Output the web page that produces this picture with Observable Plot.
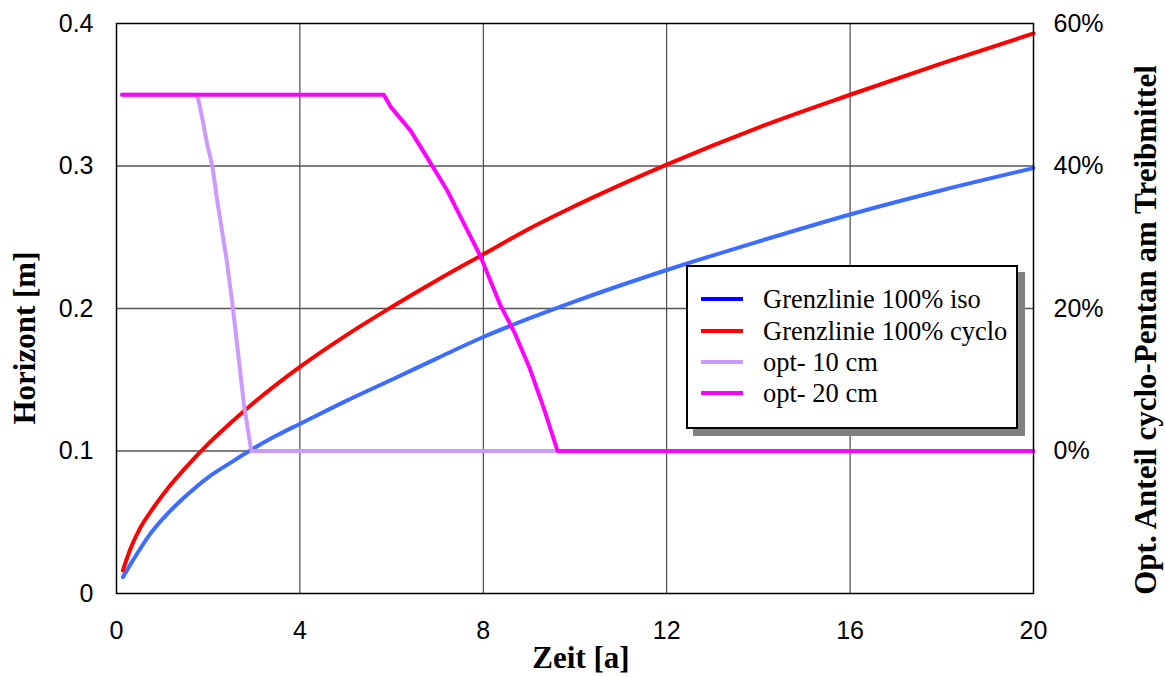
<!DOCTYPE html>
<html>
<head>
<meta charset="utf-8">
<script src="https://cdn.jsdelivr.net/npm/d3@7"></script>
<script src="https://cdn.jsdelivr.net/npm/@observablehq/plot@0.6"></script>
<style>
  html, body { margin: 0; padding: 0; background: #fff; }
  #wrap { position: relative; width: 1165px; height: 677px; overflow: hidden; }
  .title { position: absolute; font-family: "Liberation Serif", "Times New Roman", serif; font-weight: bold; font-size: 31px; line-height: 1; white-space: nowrap; color: #000; }
  #legend { position: absolute; left: 686px; top: 265px; width: 332px; height: 164px; box-sizing: border-box; border: 2px solid #000; background: #fff; box-shadow: 7px 7px 0 #808080; font-family: "Liberation Serif", "Times New Roman", serif; font-size: 26.5px; color: #000; }
  .row { position: absolute; left: 0; height: 0; }
  .sw { position: absolute; left: 13px; width: 42px; height: 4px; margin-top: -2px; }
  .lt { position: absolute; left: 75px; top: -15px; line-height: 30px; white-space: nowrap; }
</style>
</head>
<body>
<div id="wrap"></div>
<script>
// ---- data ----
const xTicks = [0, 4, 8, 12, 16, 20];
const yTicks = [0, 0.1, 0.2, 0.3, 0.4];
const pctTicks = [0, 20, 40, 60];

const isoT = [0.14, 0.38, 0.74, 1.1, 1.5, 2.0, 2.5, 2.92, 3.5, 4, 5, 6, 7, 8, 9, 10, 12, 14, 16, 18, 20];
const isoH = [0.0115, 0.0244, 0.042, 0.0555, 0.068, 0.0815, 0.092, 0.1005, 0.111, 0.119, 0.135, 0.150, 0.1652, 0.180, 0.193, 0.205, 0.227, 0.247, 0.266, 0.283, 0.2985];

const cycloT = [0.14, 0.3, 0.5, 0.8, 1.1, 1.5, 2, 2.5, 3, 4, 5, 6, 7, 8, 9, 10, 12, 14, 16, 18, 20];
const cycloH = [0.0162, 0.031, 0.045, 0.060, 0.073, 0.088, 0.105, 0.120, 0.134, 0.159, 0.181, 0.201, 0.220, 0.238, 0.256, 0.272, 0.301, 0.327, 0.350, 0.372, 0.393];

const opt10T = [0.12, 1.76, 1.83, 1.98, 2.09, 2.2, 2.41, 2.54, 2.78, 2.94, 20];
const opt10P = [50, 50, 48, 43, 40, 35, 26.5, 20, 6.5, 0, 0];

const opt20T = [0.12, 5.83, 5.98, 6.41, 6.85, 7.21, 7.65, 7.94, 8.37, 8.69, 9.0, 9.31, 9.62, 20];
const opt20P = [50, 50, 48.3, 45, 40.4, 36.6, 31, 27.3, 20.5, 16.5, 11.8, 6.2, 0, 0];

const seriesNames = ["Grenzlinie 100% iso", "Grenzlinie 100% cyclo", "opt- 10 cm", "opt- 20 cm"];
const lineColors = ["#3d6dff", "#ff0000", "#cc99ff", "#ff00ff"];
const legendColors = ["#0000ff", "#ff0000", "#cc99ff", "#ff00ff"];
const lineCurves = ["monotone-x", "monotone-x", "linear", "linear"];

// percent (right axis) -> left-axis value: 0% at 0.1, 60% at 0.4
const pctToH = p => 0.1 + p / 200;
const hToPct = h => (h - 0.1) * 200;

const isoRows = isoT.map((t, i) => ({t, h: isoH[i]}));
const cycloRows = cycloT.map((t, i) => ({t, h: cycloH[i]}));
const opt10Rows = opt10T.map((t, i) => ({t, h: pctToH(opt10P[i])}));
const opt20Rows = opt20T.map((t, i) => ({t, h: pctToH(opt20P[i])}));
const allRows = [isoRows, cycloRows, opt10Rows, opt20Rows];

const lineOpts = (i) => ({x: "t", y: "h", stroke: lineColors[i], strokeWidth: 4, curve: lineCurves[i], strokeLinecap: "round", strokeLinejoin: "round"});

const chart = Plot.plot({
  width: 1165,
  height: 677,
  marginLeft: 116,
  marginRight: 132,
  marginTop: 23,
  marginBottom: 84,
  style: {fontFamily: "'Liberation Sans', Arial, sans-serif", fontSize: "25px", color: "#000", background: "#fff"},
  x: {domain: [0, 20]},
  y: {domain: [0, 0.4]},
  marks: [
    Plot.gridX(xTicks.slice(1, -1), {stroke: "#000", strokeOpacity: 0.85, strokeWidth: 1}),
    Plot.gridY(yTicks.slice(1, -1), {stroke: "#555", strokeOpacity: 1, strokeWidth: 1.5}),
    Plot.axisX(xTicks, {tickSize: 0, tickPadding: 28, label: null, fontSize: 25}),
    Plot.axisY(yTicks, {anchor: "left", tickSize: 0, tickPadding: 23, label: null, fontSize: 25,
      tickFormat: d => d === 0 ? "0" : d.toFixed(1)}),
    Plot.axisY(pctTicks.map(pctToH), {anchor: "right", tickSize: 0, tickPadding: 20, label: null, fontSize: 25,
      tickFormat: d => Math.round(hToPct(d)) + "%"}),
    ...allRows.map((rows, i) => Plot.line(rows, lineOpts(i))),
    Plot.frame({stroke: "#000", strokeWidth: 1.5})
  ]
});

const wrap = document.getElementById("wrap");
wrap.appendChild(chart);

function addTitle(text, css) {
  const d = document.createElement("div");
  d.className = "title";
  d.textContent = text;
  Object.assign(d.style, css);
  wrap.appendChild(d);
}
addTitle("Zeit [a]", {left: "581px", top: "657px", transform: "translate(-50%,-50%)"});
addTitle("Horizont [m]", {left: "24px", top: "338px", transform: "translate(-50%,-50%) rotate(-90deg)"});
addTitle("Opt. Anteil cyclo-Pentan am Treibmittel", {left: "1145px", top: "330px", transform: "translate(-50%,-50%) rotate(-90deg)"});

const legend = document.createElement("div");
legend.id = "legend";
const rowY = [32, 64, 95, 126];
seriesNames.forEach((name, i) => {
  const r = document.createElement("div");
  r.className = "row";
  r.style.top = rowY[i] + "px";
  const sw = document.createElement("div");
  sw.className = "sw";
  sw.style.background = legendColors[i];
  const lt = document.createElement("div");
  lt.className = "lt";
  lt.textContent = name;
  r.appendChild(sw);
  r.appendChild(lt);
  legend.appendChild(r);
});
wrap.appendChild(legend);
</script>
</body>
</html>
